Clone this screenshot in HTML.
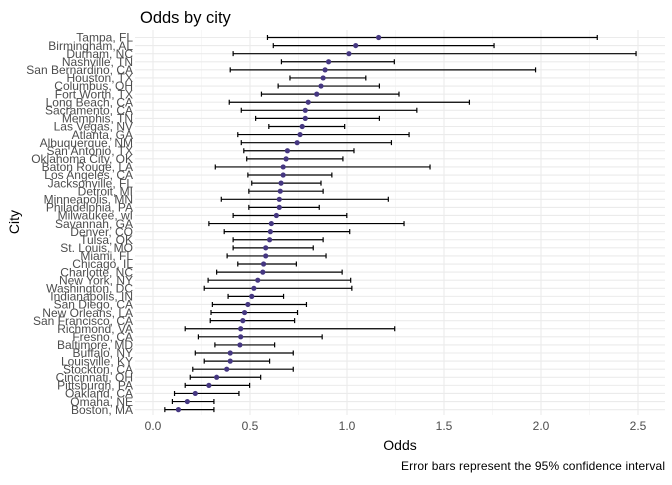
<!DOCTYPE html>
<html><head><meta charset="utf-8"><style>
body{margin:0;background:#fff;}
svg text{font-family:"Liberation Sans",sans-serif;}
</style></head><body>
<svg id="chart" width="672" height="480" xmlns="http://www.w3.org/2000/svg">
<rect width="672" height="480" fill="#fff"/>
<text x="140" y="23" font-size="16.5" fill="#000">Odds by city</text>
<text transform="translate(19,222) rotate(-90)" text-anchor="middle" font-size="14" fill="#000">City</text>
<text x="400" y="450" text-anchor="middle" font-size="14" fill="#000">Odds</text>
<text x="665" y="470" text-anchor="end" font-size="12" textLength="264" fill="#000">Error bars represent the 95% confidence interval</text>
<g id="grid"></g><g id="marks"></g><g id="labels"></g>
</svg>
<script>
const cities=["Tampa, FL","Birmingham, AL","Durham, NC","Nashville, TN","San Bernardino, CA","Houston, TX","Columbus, OH","Fort Worth, TX","Long Beach, CA","Sacramento, CA","Memphis, TN","Las Vegas, NV","Atlanta, GA","Albuquerque, NM","San Antonio, TX","Oklahoma City, OK","Baton Rouge, LA","Los Angeles, CA","Jacksonville, FL","Detroit, MI","Minneapolis, MN","Philadelphia, PA","Milwaukee, wI","Savannah, GA","Denver, CO","Tulsa, OK","St. Louis, MO","Miami, FL","Chicago, IL","Charlotte, NC","New York, NY","Washington, DC","Indianapolis, IN","San Diego, CA","New Orleans, LA","San Francisco, CA","Richmond, VA","Fresno, CA","Baltimore, MD","Buffalo, NY","Louisville, KY","Stockton, CA","Cincinnati, OH","Pittsburgh, PA","Oakland, CA","Omaha, NE","Boston, MA"];
const odds=[1.163,1.045,1.01,0.905,0.887,0.877,0.866,0.844,0.80,0.785,0.785,0.769,0.758,0.743,0.693,0.686,0.671,0.671,0.66,0.656,0.651,0.651,0.636,0.61,0.605,0.601,0.581,0.581,0.570,0.566,0.54,0.52,0.509,0.489,0.472,0.463,0.452,0.452,0.448,0.398,0.398,0.38,0.328,0.288,0.218,0.177,0.131];
const lower=[0.59,0.62,0.413,0.662,0.398,0.706,0.645,0.559,0.393,0.455,0.529,0.597,0.437,0.455,0.468,0.483,0.321,0.489,0.509,0.494,0.352,0.494,0.413,0.288,0.367,0.413,0.413,0.382,0.437,0.328,0.284,0.264,0.387,0.306,0.299,0.295,0.166,0.234,0.319,0.218,0.264,0.205,0.192,0.166,0.111,0.10,0.061];
const upper=[2.29,1.758,2.49,1.244,1.972,1.097,1.167,1.268,1.631,1.36,1.167,0.988,1.32,1.229,1.036,0.979,1.428,0.922,0.866,0.877,1.213,0.857,0.999,1.294,1.014,0.877,0.826,0.892,0.739,0.975,1.019,1.025,0.673,0.791,0.745,0.730,1.246,0.872,0.627,0.723,0.601,0.723,0.555,0.498,0.443,0.314,0.314];
const xTicks=[0,0.5,1,1.5,2,2.5];
const xTickLabels=["0.0","0.5","1.0","1.5","2.0","2.5"];
const NS="http://www.w3.org/2000/svg";
const L=135,R=665,T=30,B=415;
const x=v=>153+v*194;
const y=i=>37.5+i*8.09;
function mk(tag,attrs,parent){const e=document.createElementNS(NS,tag);for(const k in attrs)e.setAttribute(k,attrs[k]);parent.appendChild(e);return e;}
const grid=document.getElementById('grid'),marks=document.getElementById('marks'),labels=document.getElementById('labels');
for(let v=0.25;v<2.8;v+=0.5){const px=x(v);if(px<R){const g=mk('line',{x1:px,x2:px,y1:T,y2:B,stroke:'#f2f2f2','stroke-width':0.6},grid);

}}
xTicks.forEach((v,i)=>{const g=mk('line',{x1:x(v),x2:x(v),y1:T,y2:B,stroke:'#ebebeb','stroke-width':1.1},grid);


const t=mk('text',{x:x(v),y:430,'text-anchor':'middle','font-size':12,fill:'#4d4d4d'},labels);t.textContent=xTickLabels[i];

});
cities.forEach((c,i)=>{const yy=y(i);
const g=mk('line',{x1:L,x2:R,y1:yy,y2:yy,stroke:'#ebebeb','stroke-width':1.1},grid);


const t=mk('text',{x:133,y:yy+4.2,'text-anchor':'end','font-size':12,fill:'#4d4d4d'},labels);t.textContent=c;


const eb=mk('path',{d:`M${x(lower[i])},${yy}H${x(upper[i])}M${x(lower[i])},${yy-2.5}V${yy+2.5}M${x(upper[i])},${yy-2.5}V${yy+2.5}`,stroke:'#000','stroke-width':1.2,fill:'none'},marks);


const p=mk('circle',{cx:x(odds[i]),cy:yy,r:2.6,fill:'#453781'},marks);

});
</script>
</body></html>
